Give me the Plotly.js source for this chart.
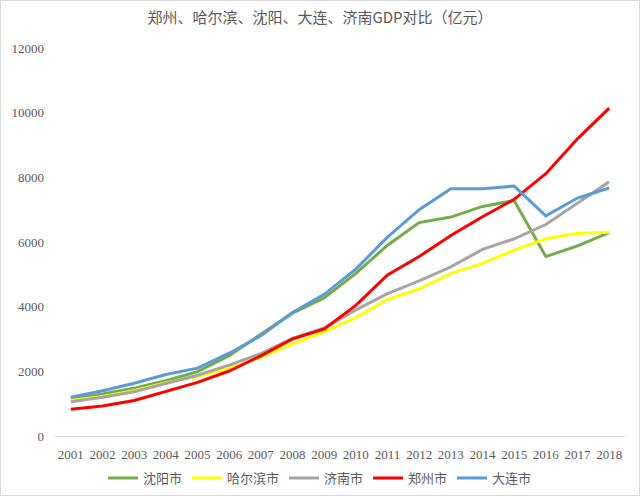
<!DOCTYPE html>
<html>
<head>
<meta charset="utf-8">
<script src="https://cdn.plot.ly/plotly-3.0.1.min.js"></script>
<style>
html,body{margin:0;padding:0;background:#fff;}
#wrap{position:relative;width:640px;height:496px;}
#chart{width:640px;height:496px;}
#frame{position:absolute;left:0;top:0;width:640px;height:496px;box-sizing:border-box;border:1px solid #d9d9d9;pointer-events:none;}
</style>
</head>
<body>
<div id="wrap"><div id="chart"></div><div id="frame"></div></div>
<script>
const years = ["2001","2002","2003","2004","2005","2006","2007","2008","2009","2010","2011","2012","2013","2014","2015","2016","2017","2018"];
const shenyang = [1160,1300,1480,1710,1990,2480,3150,3800,4270,5030,5900,6600,6770,7100,7280,5550,5880,6290];
const harbin   = [1100,1220,1400,1650,1840,2100,2430,2850,3220,3660,4220,4550,5020,5340,5750,6100,6270,6300];
const jinan    = [1060,1200,1370,1620,1880,2190,2550,3020,3340,3900,4400,4800,5230,5770,6100,6540,7200,7860];
const zhengzhou= [830,930,1100,1370,1660,2010,2480,3000,3310,4040,4980,5550,6200,6780,7320,8110,9190,10140];
const dalian   = [1200,1400,1630,1900,2100,2560,3100,3820,4380,5160,6150,7000,7650,7650,7730,6810,7360,7670];

const names = ["沈阳市","哈尔滨市","济南市","郑州市","大连市"];
const series = [shenyang, harbin, jinan, zhengzhou, dalian];
const colors = ["#70ad47","#ffff00","#a5a5a5","#ff0000","#5b9bd5"];

const traces = series.map((s,i)=>({
  type:"scatter", mode:"lines", x:years, y:s, name:names[i],
  line:{color:colors[i], width:3}
}));

const tickFont = {family:"'Liberation Serif', 'DejaVu Serif', serif", size:13, color:"#595959"};

const layout = {
  width:640, height:496,
  margin:{l:55, r:15, t:48, b:60},
  paper_bgcolor:"#fff", plot_bgcolor:"#fff",
  title:{text:"郑州、哈尔滨、沈阳、大连、济南GDP对比（亿元）", x:0.5, xanchor:"center", y:0.965, yanchor:"middle",
    font:{family:"Noto Sans CJK SC", size:15, color:"#595959"}},
  xaxis:{type:"category", range:[-0.5,17.5], showgrid:false, showline:true, linecolor:"#d9d9d9", linewidth:1,
    ticks:"", tickfont:tickFont, zeroline:false, ticklabelstandoff:6, tickangle:0, automargin:false},
  yaxis:{range:[0,12000], dtick:2000, showgrid:false, showline:false, zeroline:false, ticks:"",
    tickformat:"d", tickfont:tickFont, ticklabelstandoff:10, automargin:false},
  legend:{orientation:"h", x:0.5, xanchor:"center", xref:"container", yref:"container", y:0.036, yanchor:"middle",
    font:{family:"Noto Sans CJK SC", size:13, color:"#595959"}, itemwidth:30, traceorder:"normal"},
  showlegend:true
};
Plotly.newPlot("chart", traces, layout, {displayModeBar:false, staticPlot:true});
</script>
</body>
</html>
